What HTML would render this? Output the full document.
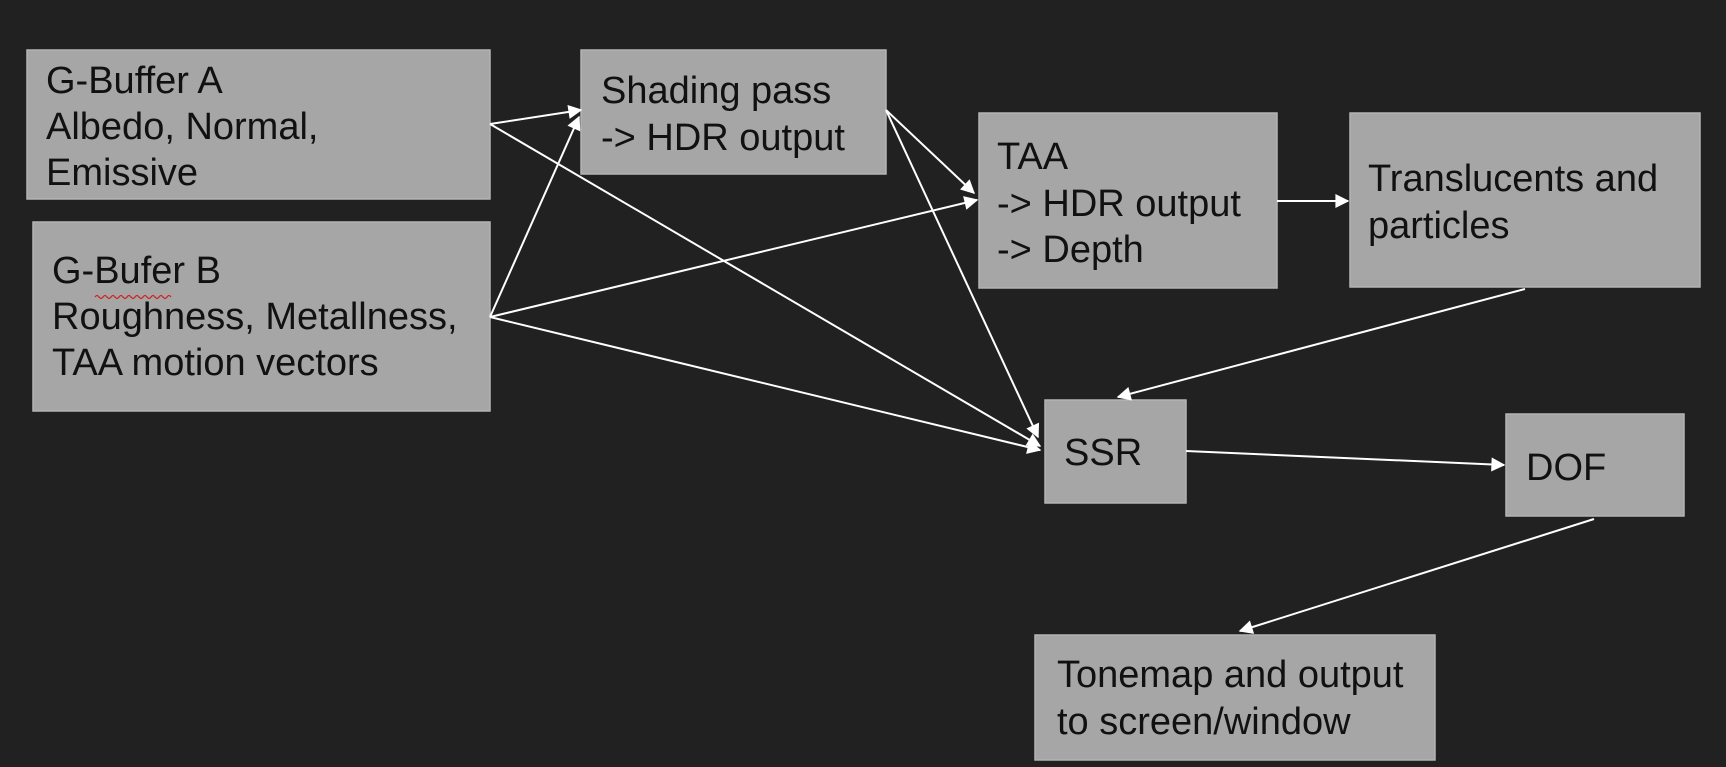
<!DOCTYPE html>
<html><head><meta charset="utf-8"><style>
html,body{margin:0;padding:0;background:#212121;width:1726px;height:767px;overflow:hidden}
</style></head><body>
<svg width="1726" height="767" viewBox="0 0 1726 767" xmlns="http://www.w3.org/2000/svg">
<defs>
<marker id="a" viewBox="0 0 10 10" refX="9" refY="5" markerWidth="18" markerHeight="14" markerUnits="userSpaceOnUse" orient="auto"><path d="M0,0 L10,5 L0,10 z" fill="#fff"/></marker>
</defs>
<rect width="1726" height="767" fill="#212121"/>
<g fill="#a6a6a6" stroke="#b4b4b4" stroke-width="1.5">
<rect x="27" y="50" width="463" height="149"/>
<rect x="33" y="222" width="457" height="189"/>
<rect x="581" y="50" width="305" height="124"/>
<rect x="979" y="113" width="298" height="175"/>
<rect x="1350" y="113" width="350" height="174"/>
<rect x="1045" y="400" width="141" height="103"/>
<rect x="1506" y="414" width="178" height="102"/>
<rect x="1035" y="635" width="400" height="125"/>
</g>
<g stroke="#fff" stroke-width="2" fill="none" marker-end="url(#a)">
<line x1="490" y1="124" x2="581" y2="110"/>
<line x1="490" y1="124" x2="1040" y2="446"/>
<line x1="490" y1="317" x2="579" y2="117"/>
<line x1="490" y1="317" x2="977" y2="200"/>
<line x1="490" y1="317" x2="1040" y2="450"/>
<line x1="886" y1="110" x2="974" y2="193"/>
<line x1="886" y1="110" x2="1038" y2="437"/>
<line x1="1277" y1="201" x2="1348" y2="201"/>
<line x1="1525" y1="289" x2="1118" y2="397"/>
<line x1="1186" y1="451" x2="1504" y2="465"/>
<line x1="1594" y1="519" x2="1240" y2="631"/>
</g>
<g font-family="Liberation Sans, sans-serif" font-size="38" fill="#111">
<text x="46" y="93">G-Buffer A</text>
<text x="46" y="139">Albedo, Normal,</text>
<text x="46" y="185">Emissive</text>
<text x="52" y="283">G-Bufer B</text>
<text x="52" y="329">Roughness, Metallness,</text>
<text x="52" y="375">TAA motion vectors</text>
<text x="601" y="103">Shading pass</text>
<text x="601" y="150">-&gt; HDR output</text>
<text x="997" y="169">TAA</text>
<text x="997" y="216">-&gt; HDR output</text>
<text x="997" y="262">-&gt; Depth</text>
<text x="1368" y="191">Translucents and</text>
<text x="1368" y="238">particles</text>
<text x="1064" y="465">SSR</text>
<text x="1526" y="480">DOF</text>
<text x="1057" y="687">Tonemap and output</text>
<text x="1057" y="734">to screen/window</text>
</g>
<path d="M95,297 q2,-3 4,0 t4,0 t4,0 t4,0 t4,0 t4,0 t4,0 t4,0 t4,0 t4,0 t4,0 t4,0 t4,0 t4,0 t4,0 t4,0 t4,0 t4,0 t4,0" stroke="#d02020" stroke-width="1.2" fill="none"/>
</svg>
</body></html>
